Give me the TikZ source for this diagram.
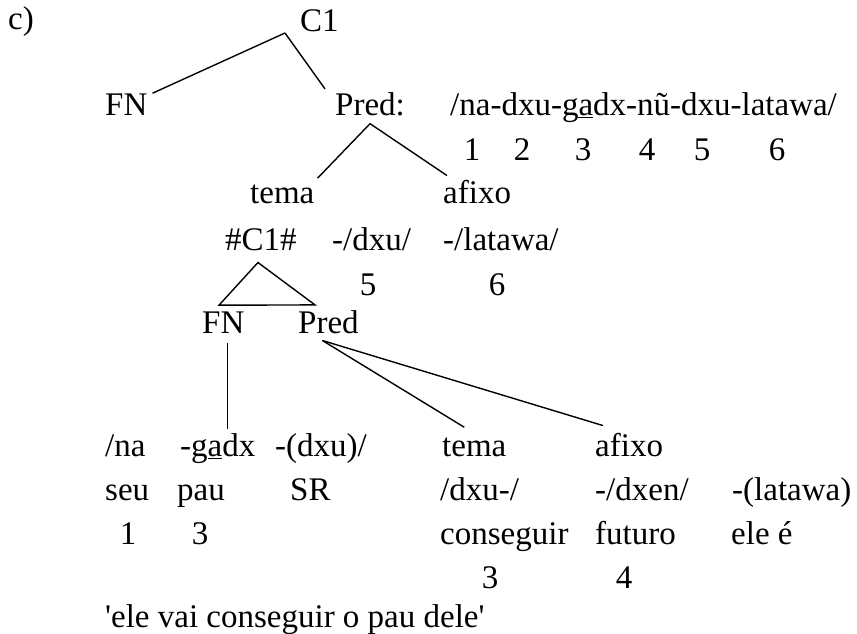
\documentclass[tikz,border=0pt]{standalone}
\usepackage{fontspec}
\setmainfont{Liberation Serif}[Ligatures=TeXOff]

\begin{document}
\begin{tikzpicture}[
    x=1pt, y=-1pt,
    word/.style={anchor=base west, inner sep=0pt, font=\fontsize{33}{38}\selectfont},
    num/.style={word, anchor=base},
    branch/.style={line width=1.4pt}
]
\useasboundingbox (0,0) rectangle (857,634);

% Example label
\node[word] (lbl) at (8,30) {c)};

% Upper tree
\node[word] (c1) at (300,32) {C1};
\node[word] (fn) at (105,115) {FN};
\node[word] (pred) at (335,115) {Pred:};
\node[word] (form) at (450,115) {/na-dxu-g\underline{a}dx-nũ-dxu-latawa/};

% Morpheme numbers under the form
\foreach \x/\n in {472/1, 522/2, 583/3, 647/4, 702/5, 777/6}
    \node[num] (m\n) at (\x,160) {\n};

\node[word] (tema) at (250,203) {tema};
\node[word] (afixo) at (443,203) {afixo};

\node[word] (emb) at (225,250) {\#C1\#};
\node[word] (dxu) at (332,250) {-/dxu/};
\node[word] (lat) at (443,250) {-/latawa/};
\node[num] (n5) at (368,295) {5};
\node[num] (n6) at (497,295) {6};

% Embedded clause
\node[word] (fnb) at (202,333) {FN};
\node[word] (predb) at (298,333) {Pred};

% Branches
\draw[branch] ([xshift=-15pt,yshift=-1pt]c1.base west) coordinate (c1foot) -- ([xshift=5pt]fn.north east);
\draw[branch] (c1foot) -- ([xshift=-10pt,yshift=3pt]pred.north west);
\draw[branch] ([yshift=-8pt]pred.south) coordinate (predfoot) -- ([xshift=3pt,yshift=6pt]tema.north east);
\draw[branch] (predfoot) -- ([xshift=4pt,yshift=4pt]afixo.north west);

% Triangle over FN Pred
\draw[branch] ([xshift=-3pt,yshift=-12pt]emb.south)
    -- ([xshift=17pt,yshift=6pt]fnb.north west)
    -- ([xshift=17pt,yshift=5pt]predb.north west) -- cycle;

% Lower rows
\node[word] (na) at (105,456) {/na};
\node[word] (gadx) at (180,456) {-g\underline{a}dx};
\node[word] (dxup) at (275,456) {-(dxu)/};
\node[word] (temab) at (442,456) {tema};
\node[word] (afixob) at (595,456) {afixo};

\node[word] (seu) at (105,500) {seu};
\node[word] (pau) at (177,500) {pau};
\node[word] (sr) at (290,500) {SR};
\node[word] (dxub) at (440,500) {/dxu-/};
\node[word] (dxen) at (595,500) {-/dxen/};
\node[word] (latp) at (732,500) {-(latawa)};

\node[num] (b1) at (128,544) {1};
\node[num] (b3) at (200,544) {3};
\node[word] (cons) at (440,544) {conseguir};
\node[word] (fut) at (595,544) {futuro};
\node[word] (ele) at (731,544) {ele é};

\node[num] (c3) at (490,588) {3};
\node[num] (c4) at (624,588) {4};

\node[word] (gloss) at (105,627) {'ele vai conseguir o pau dele'};

% Lower branches
\draw[branch] ([xshift=4pt,yshift=-10pt]fnb.south) coordinate (fnfoot)
    -- ([yshift=4pt]fnfoot |- gadx.north);
\draw[branch] ([xshift=-6pt,yshift=-7pt]predb.south) coordinate (predbfoot)
    -- ([xshift=-10pt,yshift=10pt]temab.north);
\draw[branch] (predbfoot) -- ([xshift=8pt,yshift=7pt]afixob.north west);

\end{tikzpicture}
\end{document}
